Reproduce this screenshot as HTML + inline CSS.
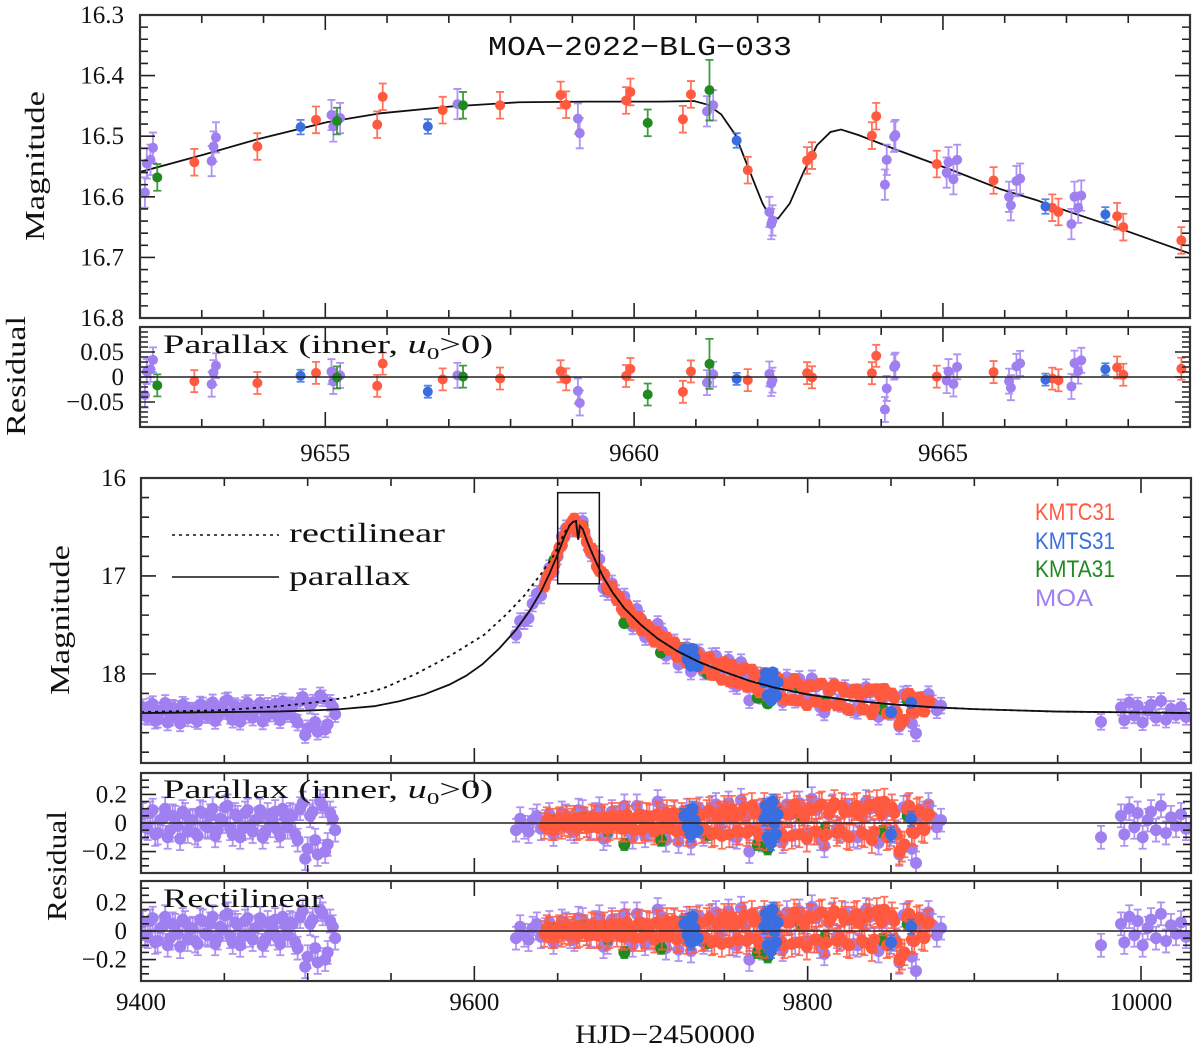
<!DOCTYPE html>
<html><head><meta charset="utf-8">
<style>
html,body{margin:0;padding:0;background:#fff}
svg{display:block}
text{font-family:"Liberation Serif",serif;fill:#111}
</style></head>
<body>
<svg id="chart" width="1200" height="1050" viewBox="0 0 1200 1050" xmlns="http://www.w3.org/2000/svg"></svg>
<script>
// ===== Top (zoom) panel data =====
const topModelT=[9652.00,9653.01,9653.90,9655.02,9655.91,9657.03,9658.14,9659.26,9660.42,9660.97,9661.19,9661.41,9661.64,9661.86,9662.08,9662.19,9662.33,9662.52,9662.74,9662.96,9663.18,9663.35,9663.63,9664.29,9665.12,9665.95,9666.50,9667.05,9667.88,9668.43,9669.01];
const topModelM=[16.559,16.531,16.505,16.477,16.462,16.451,16.444,16.443,16.443,16.442,16.448,16.464,16.498,16.555,16.611,16.631,16.636,16.611,16.560,16.515,16.493,16.489,16.498,16.524,16.555,16.588,16.605,16.625,16.653,16.673,16.694];

const topKmtcT=[9652.88,9653.90,9654.85,9655.84,9655.93,9656.90,9657.83,9658.81,9658.90,9659.87,9659.94,9660.79,9660.92,9661.84,9662.80,9662.88,9663.85,9663.92,9664.90,9665.82,9666.77,9666.87,9667.82,9667.92,9668.86];
const topKmtcM=[16.543,16.517,16.473,16.481,16.435,16.457,16.449,16.432,16.448,16.441,16.427,16.472,16.431,16.556,16.540,16.532,16.499,16.467,16.546,16.573,16.618,16.625,16.632,16.650,16.672];
const topKmtsT=[9654.60,9656.66,9661.66,9666.66,9667.63];
const topKmtsM=[16.485,16.484,16.507,16.616,16.629];
const topKmtaT=[9652.28,9655.19,9657.23,9660.22,9661.22];
const topKmtaM=[16.568,16.475,16.449,16.478,16.424];
const topKmtaE=[0.022,0.022,0.022,0.022,0.05];
const topMoaT=[9652.08,9652.11,9652.17,9652.21,9653.16,9653.19,9653.23,9655.10,9655.13,9655.24,9657.14,9659.09,9659.12,9661.18,9661.28,9662.22,9662.24,9662.19,9664.09,9664.06,9664.23,9664.21,9665.09,9665.06,9665.23,9665.17,9666.07,9666.10,9666.19,9666.25,9667.08,9667.13,9667.24,9667.19];
const topMoaM=[16.593,16.545,16.539,16.519,16.541,16.517,16.502,16.465,16.484,16.470,16.447,16.471,16.495,16.459,16.449,16.645,16.639,16.625,16.539,16.580,16.498,16.501,16.543,16.560,16.539,16.571,16.600,16.614,16.574,16.570,16.645,16.600,16.598,16.618];

const topYTicks=[16.3,16.4,16.5,16.6,16.7,16.8];
const topYLabels=["16.3","16.4","16.5","16.6","16.7","16.8"];
const topResTicks=[0.05,0,-0.05];
const topResLabels=["0.05","0","\u22120.05"];
const topXTicks=[9655,9660,9665];
const topXLabels=["9655","9660","9665"];

// ===== Bottom (full season) panel data =====
const parT=[9400,9450,9480,9500,9520,9540,9555,9570,9585,9595,9605,9615,9625,9633,9640,9645,9650,9654,9657,9659,9661,9662.3,9663.3,9665,9668,9672,9677,9683,9690,9700,9710,9722,9735,9750,9765,9780,9800,9825,9850,9875,9900,9950,10030];
const parM=[18.40,18.39,18.385,18.375,18.36,18.33,18.28,18.21,18.11,18.02,17.90,17.74,17.55,17.36,17.16,16.98,16.78,16.60,16.49,16.45,16.44,16.63,16.49,16.52,16.66,16.82,17.00,17.17,17.33,17.50,17.64,17.77,17.88,17.98,18.07,18.14,18.21,18.27,18.31,18.34,18.36,18.385,18.40];
const rectT=[9400,9450,9483,9505,9524,9545,9565,9585,9606,9620,9630,9640,9648,9654,9658,9659,9661,9662.3,9663.3,9665,9668,9672,9677,9683,9690,9700,9710,9722,9735,9750,9765,9780,9800,9825,9850,9875,9900,9950,10030];
const rectM=[18.39,18.37,18.33,18.29,18.24,18.15,18.00,17.82,17.60,17.38,17.20,16.98,16.78,16.56,16.46,16.45,16.44,16.63,16.49,16.52,16.66,16.82,17.00,17.17,17.33,17.50,17.64,17.77,17.88,17.98,18.07,18.14,18.21,18.27,18.31,18.34,18.36,18.385,18.40];

const moaT1=[9401,9404,9407,9410,9413,9416,9419,9422,9425,9428,9431,9434,9437,9440,9443,9446,9449,9452,9455,9458,9461,9464,9467,9470,9473,9476,9479,9482,9485,9488,9491,9494,9497,9500,9503,9506,9509,9512,9515];
const moaR1=[0.06,-0.04,0.09,-0.07,0.03,-0.1,0.05,-0.02,0.08,-0.06,0.02,-0.09,0.07,-0.03,0.1,-0.05,0.01,0.12,-0.08,0.04,-0.04,0.09,-0.06,0.03,-0.1,0.06,0.02,-0.05,0.1,-0.03,0.05,-0.12,0.14,-0.18,0.08,-0.22,0.12,-0.15,0.03];
const moaT2=[9402.5,9405.5,9408.5,9411.5,9414.5,9417.5,9420.5,9423.5,9426.5,9429.5,9432.5,9435.5,9438.5,9441.5,9444.5,9447.5,9450.5,9453.5,9456.5,9459.5,9462.5,9465.5,9468.5,9471.5,9474.5,9477.5,9480.5,9483.5,9486.5,9489.5,9492.5,9495.5,9498.5,9501.5,9504.5,9507.5,9510.5,9513.5,9516.5];
const moaR2=[-0.03,0.07,-0.08,0.02,0.1,-0.05,0.04,-0.11,0.06,0.01,-0.07,0.08,-0.02,0.05,-0.09,0.03,0.11,-0.04,0.06,-0.1,0.07,-0.03,0.02,0.09,-0.06,-0.02,0.08,-0.09,0.04,0.06,-0.08,0.1,-0.25,0.05,-0.12,0.15,-0.2,0.07,-0.05];
const moaT3=[9625,9630,9635,9640,9645,9650,9655,9660,9665,9670,9675,9680,9685,9690,9695,9700,9705,9710,9715,9720,9725,9730,9735,9740,9745,9750,9755,9760,9765,9770,9775,9780,9785,9790,9795,9800,9805,9810,9815,9820,9825,9830,9835,9840,9845,9850,9855,9860,9865,9870,9875,9880];
const moaR3=[-0.05,-0.03,0.02,-0.04,0.06,-0.02,0.05,-0.06,0.08,-0.03,0.1,-0.08,0.04,0.12,-0.1,0.06,-0.05,0.15,-0.12,0.07,0.03,-0.14,0.1,-0.06,0.13,0.05,-0.09,0.16,-0.2,0.08,-0.04,0.11,-0.13,0.06,0.14,-0.07,0.09,-0.16,0.12,-0.05,0.08,-0.1,0.15,-0.06,0.1,-0.08,-0.22,0.12,-0.28,0.07,0.04,0.02];
const moaT4=[9627.5,9632.5,9637.5,9642.5,9647.5,9652.5,9657.5,9662.5,9667.5,9672.5,9677.5,9682.5,9687.5,9692.5,9697.5,9702.5,9707.5,9712.5,9717.5,9722.5,9727.5,9732.5,9737.5,9742.5,9747.5,9752.5,9757.5,9762.5,9767.5,9772.5,9777.5,9782.5,9787.5,9792.5,9797.5,9802.5,9807.5,9812.5,9817.5,9822.5,9827.5,9832.5,9837.5,9842.5,9847.5,9852.5,9857.5,9862.5,9867.5,9872.5,9877.5];
const moaR4=[0.03,-0.06,0.05,0.01,-0.08,0.07,-0.04,0.09,-0.02,0.06,-0.11,0.08,0.02,-0.06,0.12,-0.09,0.05,0.1,-0.04,-0.13,0.09,0.06,-0.08,0.11,-0.03,0.14,-0.1,0.04,0.07,-0.12,0.1,-0.05,0.13,-0.08,0.03,0.17,-0.11,0.06,-0.04,0.12,-0.09,0.05,0.1,-0.14,0.08,-0.06,0.11,-0.18,0.05,0.13,-0.03];
const moaT5=[9976,9988,9990,9993,9996,9998,10001,10004,10006,10009,10012,10015,10018,10021,10024,10027];
const moaR5=[-0.1,0.05,-0.08,0.1,-0.03,0.07,-0.1,0.02,0.08,-0.05,0.12,-0.07,0.04,-0.02,0.06,-0.04];

const kmtcT1=[9642,9645,9648,9651,9654,9657,9660,9663,9666,9669,9672,9675,9678,9681,9684,9687,9690,9693,9696,9699,9702,9705,9708,9711,9714,9717,9720,9723,9726,9729,9732,9735,9738,9741,9744,9747,9750,9753,9756,9759,9762,9765,9768,9771,9774,9777,9780,9783,9786,9789,9792,9795,9798,9801,9804,9807,9810,9813,9816,9819,9822,9825,9828,9831,9834,9837,9840,9843,9846,9849,9852,9855,9858,9861,9864,9867,9870,9873];
const kmtcR1=[-0.02,0.01,-0.03,0.02,0.0,-0.01,0.03,-0.02,0.02,-0.03,0.03,-0.02,0.04,-0.03,0.02,0.05,-0.04,0.03,-0.05,0.06,-0.03,0.04,-0.06,0.05,0.02,-0.04,0.07,-0.05,0.03,0.08,-0.06,0.05,-0.04,0.09,-0.07,0.06,0.1,-0.08,0.04,-0.06,0.11,-0.05,0.07,-0.09,0.12,0.05,-0.07,0.09,-0.1,0.06,0.13,-0.08,0.05,0.1,-0.06,0.12,-0.09,0.07,0.14,-0.05,0.08,-0.1,0.11,0.06,-0.08,0.13,-0.06,0.09,0.15,-0.09,0.07,-0.2,-0.15,0.12,-0.07,0.09,-0.05,0.06];
const kmtcT2=[9643.5,9646.5,9649.5,9652.5,9655.5,9658.5,9661.5,9664.5,9667.5,9670.5,9673.5,9676.5,9679.5,9682.5,9685.5,9688.5,9691.5,9694.5,9697.5,9700.5,9703.5,9706.5,9709.5,9712.5,9715.5,9718.5,9721.5,9724.5,9727.5,9730.5,9733.5,9736.5,9739.5,9742.5,9745.5,9748.5,9751.5,9754.5,9757.5,9760.5,9763.5,9766.5,9769.5,9772.5,9775.5,9778.5,9781.5,9784.5,9787.5,9790.5,9793.5,9796.5,9799.5,9802.5,9805.5,9808.5,9811.5,9814.5,9817.5,9820.5,9823.5,9826.5,9829.5,9832.5,9835.5,9838.5,9841.5,9844.5,9847.5,9850.5,9853.5,9856.5,9859.5,9862.5,9865.5,9868.5,9871.5];
const kmtcR2=[0.02,-0.03,0.01,-0.02,0.03,0.01,-0.03,0.02,-0.01,0.04,-0.03,0.02,-0.04,0.05,-0.02,-0.04,0.06,-0.03,0.04,-0.05,0.05,-0.03,0.06,-0.04,0.07,0.03,-0.06,0.05,-0.07,0.04,0.08,-0.05,0.07,-0.08,0.05,-0.09,0.06,0.1,-0.06,0.08,-0.07,0.12,-0.06,0.08,-0.1,0.07,0.11,-0.08,0.06,-0.09,0.1,0.07,-0.11,0.09,-0.06,0.13,-0.08,0.1,-0.07,0.12,-0.09,0.08,0.12,-0.07,0.1,-0.12,0.14,0.06,-0.1,0.11,-0.08,-0.18,0.1,-0.06,0.08,-0.04,0.05];

const kmtsT=[9726,9728,9729,9730,9731,9732,9734,9774,9775,9776,9777,9778,9779,9780,9781,9782,9850,9862];
const kmtsR=[0.05,-0.03,0.07,-0.08,0.1,0.02,-0.05,0.03,0.12,-0.1,0.08,-0.14,0.15,0.0,-0.08,0.06,-0.08,0.03];
const kmtaT=[9648,9665,9680,9690,9700,9712,9725,9740,9755,9770,9776,9780,9795,9810,9830,9845,9860];
const kmtaR=[0.02,0.03,-0.05,-0.15,0.04,-0.12,0.06,-0.08,0.05,-0.15,-0.18,0.04,0.06,-0.05,0.08,-0.06,0.05];

const botYTicks=[16,17,18];
const botYLabels=["16","17","18"];
const resTicks=[0.2,0,-0.2];
const resLabels=["0.2","0","\u22120.2"];
const botXTicks=[9400,9600,9800,10000];
const botXLabels=["9400","9600","9800","10000"];

// ===== drawing =====
const NS='http://www.w3.org/2000/svg';
const svg=document.getElementById('chart');
function mk(tag,attrs,parent){const e=document.createElementNS(NS,tag);for(const k in attrs)e.setAttribute(k,attrs[k]);(parent||svg).appendChild(e);return e;}
function interp(xs,ys,x){if(x<=xs[0])return ys[0];for(let i=1;i<xs.length;i++){if(x<=xs[i]){const f=(x-xs[i-1])/(xs[i]-xs[i-1]);return ys[i-1]+f*(ys[i]-ys[i-1]);}}return ys[ys.length-1];}
function panel(id,x0,x1,y0,y1,tA,tB,vTop,vBot){return {id,x0,x1,y0,y1,tA,tB,vTop,vBot,sx:t=>x0+(t-tA)/(tB-tA)*(x1-x0),sy:v=>y0+(v-vTop)/(vBot-vTop)*(y1-y0)};}

const RED='#ff5a40',BLUE='#3a6ee0',GREEN='#1f8a1f',PURPLE='#a080f0';

const PA=panel('top-light-curve',140,1190,15,318,9652,9669,16.3,16.8);
const PB=panel('top-residual',140,1190,327,427,9652,9669,0.1,-0.1);
const PC=panel('main-light-curve',141,1191,478,763,9400,10030,16,18.91);
const PD=panel('parallax-residual',141,1191,773,873,9400,10030,0.35,-0.35);
const PE=panel('rectilinear-residual',141,1191,881,981,9400,10030,0.35,-0.35);

const defs=mk('defs',{});
[PA,PB,PC,PD,PE].forEach(p=>{
  const cp=mk('clipPath',{id:'clip-'+p.id},defs);
  mk('rect',{x:p.x0,y:p.y0,width:p.x1-p.x0,height:p.y1-p.y0},cp);
  p.g=mk('g',{'clip-path':'url(#clip-'+p.id+')'});
  
  
});

function ticks(p,xMaj,xMin,yMaj,yMin){
  const g=mk('g',{stroke:'#222','stroke-width':1.6,fill:'none'});
  
  
  let d='';
  const lo=Math.min(p.vTop,p.vBot),hi=Math.max(p.vTop,p.vBot);
  for(let k=Math.ceil(p.tA/xMin-1e-9);k*xMin<=p.tB+1e-9;k++){
    const v=k*xMin,maj=Math.abs(v/xMaj-Math.round(v/xMaj))<1e-6,L=maj?15:8,x=p.sx(v);
    d+=`M${x},${p.y1}v${-L}M${x},${p.y0}v${L}`;
  }
  for(let k=Math.ceil(lo/yMin-1e-9);k*yMin<=hi+1e-9;k++){
    const v=k*yMin,maj=Math.abs(v/yMaj-Math.round(v/yMaj))<1e-6,L=maj?15:8,y=p.sy(v);
    d+=`M${p.x0},${y}h${L}M${p.x1},${y}h${-L}`;
  }
  mk('path',{d:d},g);
  const f=mk('rect',{x:p.x0,y:p.y0,width:p.x1-p.x0,height:p.y1-p.y0,fill:'none',stroke:'#333','stroke-width':2.2});
  
  
}
ticks(PA,5,1,0.1,0.02);
ticks(PB,5,1,0.05,0.01);
ticks(PC,200,50,1,0.2);
ticks(PD,200,50,0.2,0.05);
ticks(PE,200,50,0.2,0.05);

function ylabels(p,vals,labels,xr,name){
  vals.forEach((v,i)=>{
    const t=mk('text',{x:xr,y:p.sy(v)+8,'text-anchor':'end','font-size':25});
    t.textContent=labels[i];
    
    
  });
}
ylabels(PA,topYTicks,topYLabels,124,'y-tick-label');
ylabels(PB,topResTicks,topResLabels,124,'residual-tick-label');
ylabels(PC,botYTicks,botYLabels,126,'y-tick-label');
ylabels(PD,resTicks,resLabels,127,'residual-tick-label');
ylabels(PE,resTicks,resLabels,127,'residual-tick-label');
function xlabels(p,vals,labels,y){
  vals.forEach((v,i)=>{
    const t=mk('text',{x:p.sx(v),y:y,'text-anchor':'middle','font-size':25});
    t.textContent=labels[i];
    
    
  });
}
xlabels(PB,topXTicks,topXLabels,461);
xlabels(PE,botXTicks,botXLabels,1010);

function zero(p){const l=mk('line',{x1:p.x0,x2:p.x1,y1:p.sy(0),y2:p.sy(0),stroke:'#222','stroke-width':1.6});
  
  }

function pts(p,ts,vs,err,color,r,name){
  const g=mk('g',{},p.g);
  
  
  let d='';
  ts.forEach((t,i)=>{
    const e=Array.isArray(err)?err[i]:err;const x=p.sx(t),ya=p.sy(vs[i]-e),yb=p.sy(vs[i]+e);
    d+=`M${x},${ya}V${yb}M${x-4},${ya}h8M${x-4},${yb}h8`;
  });
  mk('path',{d:d,stroke:color,'stroke-width':1.8,fill:'none','stroke-opacity':0.85},g);
  ts.forEach((t,i)=>{
    const c=mk('circle',{cx:p.sx(t),cy:p.sy(vs[i]),r:r,fill:color},g);
    
    
  });
}
function curve(p,ts,ms,dash,name){
  let d='';ts.forEach((t,i)=>{d+=(i?'L':'M')+p.sx(t)+','+p.sy(ms[i]);});
  const a={d:d,fill:'none',stroke:'#111','stroke-width':1.8};if(dash)a['stroke-dasharray']=dash;
  const c=mk('path',a,p.g);
  
  
}

// top panels (residual = model - data)
const topRes=(T,M)=>T.map((t,i)=>interp(topModelT,topModelM,t)-M[i]);
zero(PB);
curve(PA,topModelT,topModelM,null,'model-curve');
pts(PA,topMoaT,topMoaM,0.025,PURPLE,5,'moa-points');
pts(PA,topKmtcT,topKmtcM,0.022,RED,5,'kmtc31-points');
pts(PA,topKmtsT,topKmtsM,0.012,BLUE,5,'kmts31-points');
pts(PA,topKmtaT,topKmtaM,topKmtaE,GREEN,5,'kmta31-points');
pts(PB,topMoaT,topRes(topMoaT,topMoaM),0.025,PURPLE,5,'moa-residuals');
pts(PB,topKmtcT,topRes(topKmtcT,topKmtcM),0.022,RED,5,'kmtc31-residuals');
pts(PB,topKmtsT,topRes(topKmtsT,topKmtsM),0.012,BLUE,5,'kmts31-residuals');
pts(PB,topKmtaT,topRes(topKmtaT,topKmtaM),topKmtaE,GREEN,5,'kmta31-residuals');

// bottom panels (data mag = model - residual)
const toMag=(T,R)=>T.map((t,i)=>interp(parT,parM,t)-R[i]);
const moaSets=[[moaT1,moaR1],[moaT2,moaR2],[moaT3,moaR3],[moaT4,moaR4],[moaT5,moaR5]];
const kmtcSets=[[kmtcT1,kmtcR1],[kmtcT2,kmtcR2]];
[PD,PE].forEach(p=>{
  moaSets.forEach(s=>pts(p,s[0],s[1],0.08,PURPLE,6,'moa-residuals'));
  pts(p,kmtaT,kmtaR,0.04,GREEN,6,'kmta31-residuals');
  kmtcSets.forEach(s=>pts(p,s[0],s[1],0.09,RED,6,'kmtc31-residuals'));
  pts(p,kmtsT,kmtsR,0.05,BLUE,6,'kmts31-residuals');
  zero(p);
});
moaSets.forEach(s=>pts(PC,s[0],toMag(s[0],s[1]),0.08,PURPLE,6,'moa-points'));
pts(PC,kmtaT,toMag(kmtaT,kmtaR),0.04,GREEN,6,'kmta31-points');
kmtcSets.forEach(s=>pts(PC,s[0],toMag(s[0],s[1]),0.05,RED,6,'kmtc31-points'));
pts(PC,kmtsT,toMag(kmtsT,kmtsR),0.04,BLUE,6,'kmts31-points');
curve(PC,rectT,rectM,'3,4','rectilinear-model-curve');
curve(PC,parT,parM,null,'parallax-model-curve');

// zoom box
const bx=mk('rect',{x:PC.sx(9650),y:PC.sy(16.15),width:PC.sx(9675)-PC.sx(9650),height:PC.sy(17.08)-PC.sy(16.15),fill:'none',stroke:'#111','stroke-width':1.5});


</script>
<svg style="position:absolute;left:0;top:0" width="1200" height="1050">
  <text x="488" y="55" font-size="27" textLength="304" lengthAdjust="spacingAndGlyphs" style="font-family:'Liberation Mono',monospace">MOA−2022−BLG−033</text>
  <text transform="translate(44,166) rotate(-90)" text-anchor="middle" font-size="27" textLength="150" lengthAdjust="spacingAndGlyphs">Magnitude</text>
  <text transform="translate(25,376) rotate(-90)" text-anchor="middle" font-size="27" textLength="120" lengthAdjust="spacingAndGlyphs">Residual</text>
  <text x="163" y="353" font-size="26" textLength="330" lengthAdjust="spacingAndGlyphs">Parallax (inner, <tspan font-style="italic">u</tspan><tspan font-size="17" dy="6">0</tspan><tspan dy="-6">&gt;0)</tspan></text>
  <text transform="translate(69,620) rotate(-90)" text-anchor="middle" font-size="27" textLength="150" lengthAdjust="spacingAndGlyphs">Magnitude</text>
  <text transform="translate(66,866) rotate(-90)" text-anchor="middle" font-size="27" textLength="110" lengthAdjust="spacingAndGlyphs">Residual</text>
  <text x="163" y="798" font-size="26" textLength="330" lengthAdjust="spacingAndGlyphs">Parallax (inner, <tspan font-style="italic">u</tspan><tspan font-size="17" dy="6">0</tspan><tspan dy="-6">&gt;0)</tspan></text>
  <text x="163" y="907" font-size="26" textLength="160" lengthAdjust="spacingAndGlyphs">Rectilinear</text>
  <text x="665" y="1043" text-anchor="middle" font-size="26" textLength="180" lengthAdjust="spacingAndGlyphs">HJD−2450000</text>
  <g>
    <line x1="172" y1="535" x2="279" y2="535" stroke="#111" stroke-width="1.6" stroke-dasharray="3,4"/>
    <text x="289" y="542" font-size="27" textLength="156" lengthAdjust="spacingAndGlyphs">rectilinear</text>
    <line x1="172" y1="577" x2="279" y2="577" stroke="#111" stroke-width="1.6"/>
    <text x="289" y="585" font-size="27" textLength="121" lengthAdjust="spacingAndGlyphs">parallax</text>
  </g>
  <g>
    <text x="1035" y="520" font-size="24" textLength="80" lengthAdjust="spacingAndGlyphs" style="fill:#ff5a40;font-family:'Liberation Sans',sans-serif">KMTC31</text>
    <text x="1035" y="549" font-size="24" textLength="80" lengthAdjust="spacingAndGlyphs" style="fill:#3a6ee0;font-family:'Liberation Sans',sans-serif">KMTS31</text>
    <text x="1035" y="577" font-size="24" textLength="80" lengthAdjust="spacingAndGlyphs" style="fill:#1f8a1f;font-family:'Liberation Sans',sans-serif">KMTA31</text>
    <text x="1035" y="606" font-size="24" textLength="58" lengthAdjust="spacingAndGlyphs" style="fill:#a080f0;font-family:'Liberation Sans',sans-serif">MOA</text>
  </g>
</svg>
</body></html>
